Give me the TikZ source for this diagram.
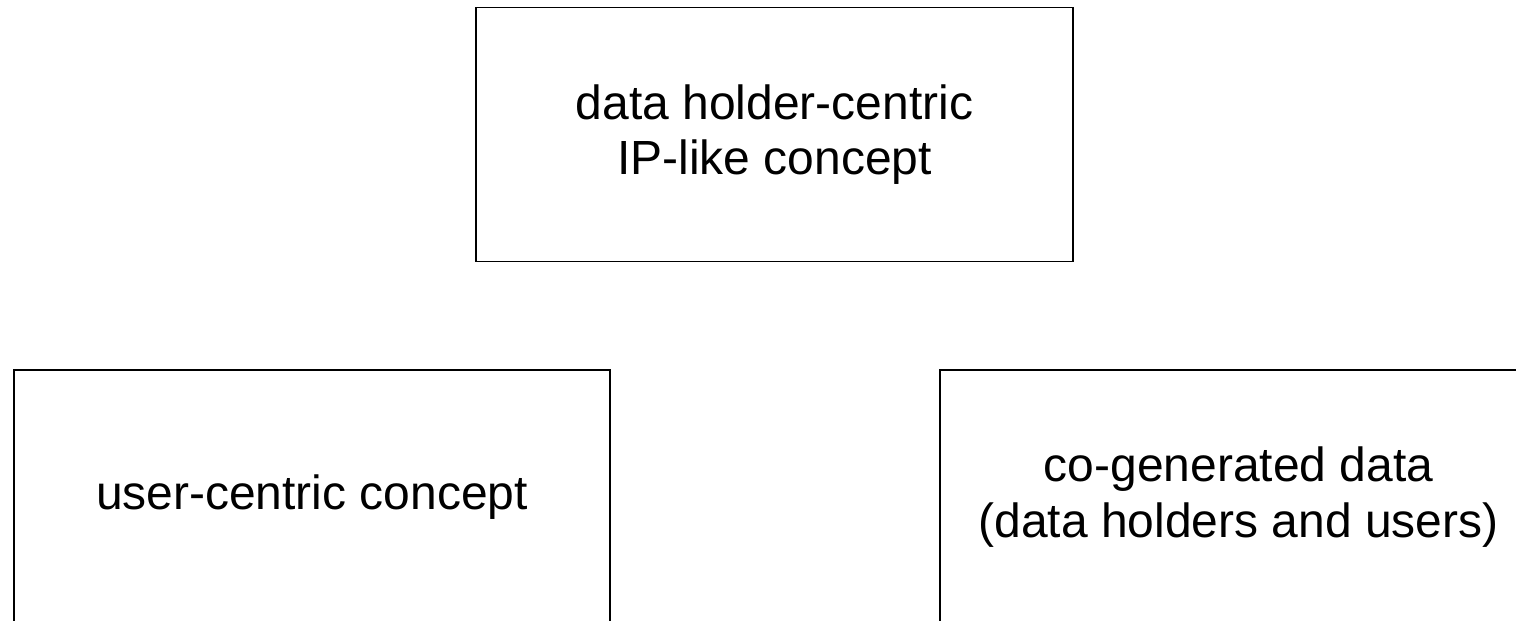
\documentclass[tikz,border=0pt]{standalone}
\usepackage{fontspec}
\setmainfont{Liberation Sans}
\begin{document}
\begin{tikzpicture}[x=0.02cm, y=-0.02cm]
  \tikzset{
    concept_box/.style={
      draw=black,
      line width=1.1pt,
      rectangle,
      minimum width=11.94cm,
      minimum height=5.08cm,
      align=center,
      font=\fontsize{27.3}{31.5}\selectfont
    }
  }

  % frame of the picture
  \useasboundingbox (0,0) rectangle (1516,620);
  \clip (0,0) rectangle (1516,620);

  % boxes
  \node[concept_box] (holder) at (774.5,134.5) {data holder-centric\\IP-like concept};
  \node[concept_box] (user) at (312,497) {user-centric concept};
  \node[concept_box] (cogen) at (1238.5,497) {co-generated data\\(data holders and users)};
\end{tikzpicture}
\end{document}
